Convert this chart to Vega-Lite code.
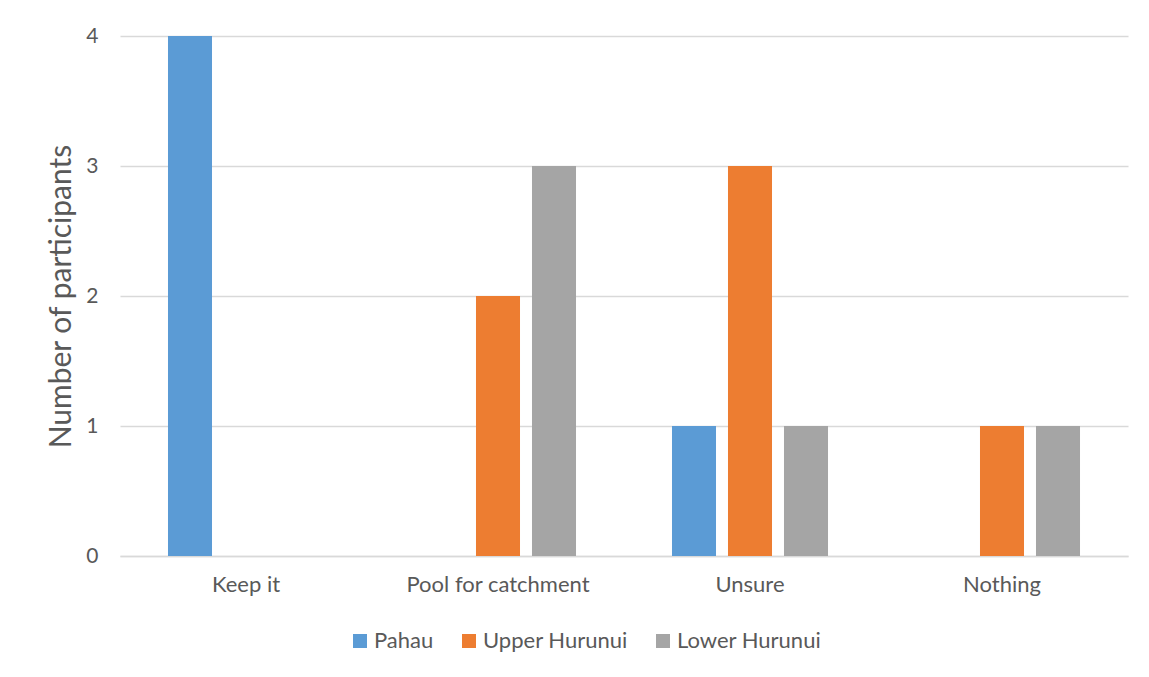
{
  "$schema": "https://vega.github.io/schema/vega-lite/v6.json",
  "autosize": "none",
  "width": 1008,
  "height": 520,
  "padding": {"left": 120, "top": 36, "right": 21, "bottom": 121},
  "background": "white",
  "config": {
    "view": {"stroke": null},
    "font": "Lato"
  },
  "data": {
    "values": [
      {"category": "Keep it", "group": "Pahau", "count": 4},
      {"category": "Keep it", "group": "Upper Hurunui", "count": 0},
      {"category": "Keep it", "group": "Lower Hurunui", "count": 0},
      {"category": "Pool for catchment", "group": "Pahau", "count": 0},
      {"category": "Pool for catchment", "group": "Upper Hurunui", "count": 2},
      {"category": "Pool for catchment", "group": "Lower Hurunui", "count": 3},
      {"category": "Unsure", "group": "Pahau", "count": 1},
      {"category": "Unsure", "group": "Upper Hurunui", "count": 3},
      {"category": "Unsure", "group": "Lower Hurunui", "count": 1},
      {"category": "Nothing", "group": "Pahau", "count": 0},
      {"category": "Nothing", "group": "Upper Hurunui", "count": 1},
      {"category": "Nothing", "group": "Lower Hurunui", "count": 1}
    ]
  },
  "mark": {"type": "bar"},
  "encoding": {
    "x": {
      "field": "category",
      "type": "nominal",
      "sort": ["Keep it", "Pool for catchment", "Unsure", "Nothing"],
      "scale": {"paddingInner": 0, "paddingOuter": 0},
      "axis": {
        "title": null,
        "labelAngle": 0,
        "labelFontSize": 22,
        "labelLimit": 400,
        "labelColor": "#595959",
        "labelPadding": 18,
        "ticks": false,
        "domainColor": "#D9D9D9",
        "domainWidth": 1.5
      }
    },
    "xOffset": {
      "field": "group",
      "type": "nominal",
      "sort": ["Pahau", "Upper Hurunui", "Lower Hurunui"],
      "scale": {"paddingInner": 0.214, "paddingOuter": 0.857}
    },
    "y": {
      "field": "count",
      "type": "quantitative",
      "scale": {"domain": [0, 4]},
      "axis": {
        "title": "Number of participants",
        "titleFontSize": 30,
        "titleFontWeight": "normal",
        "titleColor": "#595959",
        "titlePadding": 9,
        "values": [0, 1, 2, 3, 4],
        "format": "d",
        "labelFontSize": 21,
        "labelColor": "#595959",
        "labelPadding": 22,
        "ticks": false,
        "domain": false,
        "gridColor": "#D9D9D9",
        "gridWidth": 1.5
      }
    },
    "color": {
      "field": "group",
      "type": "nominal",
      "sort": ["Pahau", "Upper Hurunui", "Lower Hurunui"],
      "scale": {
        "domain": ["Pahau", "Upper Hurunui", "Lower Hurunui"],
        "range": ["#5B9BD5", "#ED7D31", "#A5A5A5"]
      },
      "legend": {
        "title": null,
        "orient": "none",
        "direction": "horizontal",
        "legendX": 229,
        "legendY": 594,
        "symbolType": "square",
        "symbolSize": 196,
        "symbolStrokeWidth": 0,
        "labelFontSize": 22,
        "labelColor": "#595959",
        "labelOffset": 3,
        "columnPadding": 24
      }
    }
  }
}
